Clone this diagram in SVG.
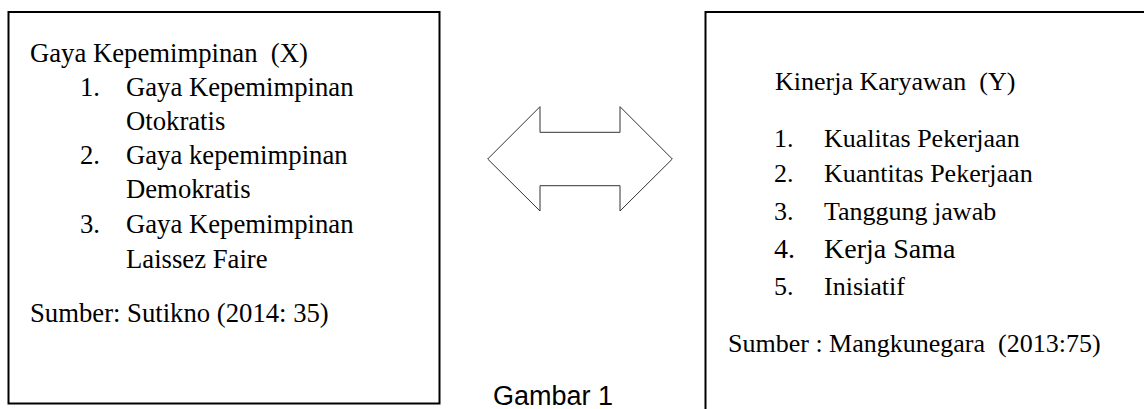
<svg xmlns="http://www.w3.org/2000/svg" width="1144" height="409" viewBox="0 0 1144 409">
  <style>
    .box { fill: #fff; stroke: #000; stroke-width: 2; }
    .arrow { fill: #fff; stroke: #333; stroke-width: 1; }
    .t { font-family: "Liberation Serif", "Times New Roman", serif; font-size: 26px; fill: #000; }
    .tl { font-size: 26.7px; }
    .cap { font-family: "Liberation Sans", Arial, sans-serif; font-size: 27px; fill: #000; }
  </style>
  <rect width="1144" height="409" fill="#fff"/>

  <!-- Variable X: leadership style -->
  <g id="node-x">
    <rect class="box" x="8.5" y="12" width="431" height="391.5"/>
    <text class="t tl" x="30" y="62" xml:space="preserve">Gaya Kepemimpinan  (X)</text>
    <text class="t tl" x="80" y="96">1.</text>
    <text class="t tl" x="126" y="96">Gaya Kepemimpinan</text>
    <text class="t tl" x="126" y="130">Otokratis</text>
    <text class="t tl" x="80" y="164">2.</text>
    <text class="t tl" x="126" y="164">Gaya kepemimpinan</text>
    <text class="t tl" x="126" y="198">Demokratis</text>
    <text class="t tl" x="80" y="233">3.</text>
    <text class="t tl" x="126" y="233">Gaya Kepemimpinan</text>
    <text class="t tl" x="126" y="268">Laissez Faire</text>
    <text class="t tl" x="30" y="322">Sumber: Sutikno (2014: 35)</text>
  </g>

  <!-- Variable Y: employee performance (box runs past the page edge) -->
  <g id="node-y">
    <rect class="box" x="705.5" y="12" width="460" height="420"/>
    <text class="t" x="775" y="90" xml:space="preserve">Kinerja Karyawan  (Y)</text>
    <text class="t" x="774" y="147">1.</text>
    <text class="t" x="824" y="147">Kualitas Pekerjaan</text>
    <text class="t" x="774" y="182">2.</text>
    <text class="t" x="824" y="182">Kuantitas Pekerjaan</text>
    <text class="t" x="774" y="220">3.</text>
    <text class="t" x="824" y="220">Tanggung jawab</text>
    <text class="t" x="774" y="258" style="font-size:28px">4.</text>
    <text class="t" x="824" y="258" style="font-size:28px">Kerja Sama</text>
    <text class="t" x="774" y="295">5.</text>
    <text class="t" x="824" y="295">Inisiatif</text>
    <text class="t" x="728" y="352" xml:space="preserve">Sumber : Mangkunegara  (2013:75)</text>
  </g>

  <!-- Two-way relationship between X and Y -->
  <g id="connectors">
    <polygon class="arrow" points="487.7,159 540,106.7 540,132.3 620,132.3 620,106.7 672.3,159 620,211 620,185.7 540,185.7 540,211"/>
  </g>

  <g id="caption">
    <text class="cap" x="553" y="405" text-anchor="middle">Gambar 1</text>
  </g>
</svg>
